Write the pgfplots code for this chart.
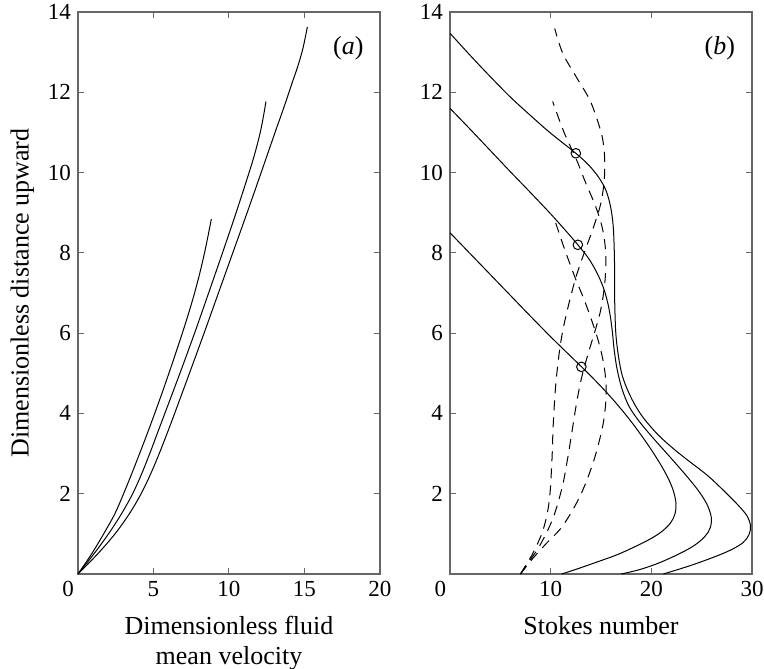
\documentclass[border=0pt]{standalone}
\usepackage{fontspec}
\setmainfont{Liberation Serif}
\usepackage{pgfplots}
\pgfplotsset{compat=1.18}

\pgfplotsset{
  panel/.style={
    scale only axis, width=151pt, height=281pt,
    ymin=0, ymax=14, ytick={2,4,...,14},
    tick align=inside, major tick length=3pt,
    axis line style={black!60, line width=0.6pt},
    every tick/.style={black!60, line width=0.5pt},
    tick label style={font=\fontsize{11.5}{13}\selectfont},
    label style={font=\fontsize{13}{15}\selectfont},
    xlabel style={yshift=-3pt},
    /pgf/number format/assume math mode=true,
  },
  curve/.style={black, line width=0.5pt, smooth, tension=0.55},
  dash1/.style={curve, dash pattern=on 5pt off 3.5pt},
}

\begin{document}
\begin{tikzpicture}
\useasboundingbox (-39pt,-47pt) rectangle (343pt,287pt);
% (a) fluid velocity
\begin{axis}[panel,
    xmin=0, xmax=20, xtick={0,5,10,15,20},
    xticklabels={\llap{0\hspace{2pt}},5,10,15,20},
    xlabel={Dimensionless fluid\\mean velocity},
    xlabel style={align=center},
    ylabel={Dimensionless distance upward},
]
\addplot[curve] coordinates {(0,0) (0.9,0.5) (1.7,1) (2.44,1.5) (3.02,2) (3.56,2.5) (4.08,3) (4.59,3.5) (5.08,4) (5.56,4.5) (6.02,5) (6.47,5.5) (6.91,6) (7.33,6.5) (7.72,7) (8.07,7.5) (8.38,8) (8.6,8.4) (8.83,8.84)};
\addplot[curve] coordinates {(0,0) (1.05,0.5) (2.02,1) (2.88,1.5) (3.62,2) (4.22,2.5) (4.75,3) (5.25,3.5) (5.75,4) (6.75,5) (7.72,6) (8.65,7) (9.57,8) (10.47,9) (11.33,10) (11.73,10.5) (12.07,11) (12.28,11.4) (12.45,11.77)};
\addplot[curve] coordinates {(0,0) (1.3,0.5) (2.45,1) (3.4,1.5) (4.18,2) (4.82,2.5) (5.38,3) (5.9,3.5) (6.4,4) (7.38,5) (8.35,6) (9.3,7) (10.25,8) (11.2,9) (12.13,10) (13.05,11) (13.65,11.64) (14.15,12.2) (14.55,12.64) (14.9,13.1) (15.19,13.63)};
\node[font=\fontsize{13}{15}\selectfont] at (axis cs:17.9,13.1) {(\textit{a})};
\end{axis}

% (b) Stokes number
\begin{axis}[panel, at={(186pt,0)},
    xmin=0, xmax=30, xtick={0,10,20,30},
    xticklabels={\llap{0\hspace{2pt}},10,20,30},
    xlabel={Stokes number},
]
% solid
\addplot[curve] coordinates {(0,8.5) (2,7.98) (4,7.46) (6,6.94) (8,6.42) (10,5.91) (12,5.42) (14,4.93) (16,4.4) (17.8,3.86) (19.3,3.35) (20.5,2.9) (21.5,2.47) (22.15,2.1) (22.45,1.76) (22.35,1.5) (21.9,1.27) (21.0,1.05) (19.8,0.86) (18.2,0.66) (16.5,0.47) (14.5,0.29) (12.8,0.14) (11.1,0)};
\addplot[curve] coordinates {(0,11.6) (2,11.08) (4,10.55) (6,10.02) (8,9.5) (10,8.97) (11.5,8.55) (12.7,8.2) (13.8,7.85) (14.7,7.45) (15.35,7.05) (15.8,6.6) (16.1,6.1) (16.3,5.6) (16.6,5.1) (17.1,4.6) (17.8,4.17) (18.8,3.8) (20.2,3.38) (21.8,2.93) (23.3,2.5) (24.6,2.1) (25.5,1.75) (25.95,1.42) (25.85,1.15) (25.3,0.93) (24.2,0.7) (22.5,0.47) (20.5,0.25) (18.7,0.1) (17.0,0)};
\addplot[curve] coordinates {(0,13.47) (2,12.92) (4,12.39) (6,11.88) (8,11.42) (10,10.98) (12.5,10.48) (13.8,10.18) (14.8,9.87) (15.5,9.55) (15.95,9.15) (16.2,8.7) (16.3,8.2) (16.35,7.6) (16.35,7.0) (16.4,6.4) (16.5,5.9) (16.75,5.4) (17.1,4.95) (17.7,4.55) (18.4,4.2) (19.3,3.86) (20.7,3.46) (22.2,3.12) (23.8,2.8) (25.6,2.45) (27.3,2.05) (28.6,1.72) (29.5,1.45) (29.85,1.2) (29.7,0.98) (29.1,0.78) (27.9,0.6) (26.3,0.43) (24.0,0.22) (21.2,0)};
% dashed
\addplot[dash1] coordinates {(7.0,0) (8.2,0.38) (9.6,0.77) (11.2,1.2) (12.9,1.93) (14.2,2.76) (15.1,3.6) (15.45,4.2) (15.5,4.7) (15.35,5.1) (15.05,5.5) (14.6,5.92) (14.0,6.37) (13.3,6.85) (12.4,7.4) (11.3,8.15) (10.4,8.82)};
\addplot[dash1] coordinates {(7,0) (7.9,0.33) (8.9,0.7) (10.2,1.37) (11.15,2.17) (11.7,2.9) (12.15,3.6) (12.6,4.3) (13.1,4.92) (13.7,5.47) (14.4,6.05) (14.9,6.5) (15.2,6.9) (15.42,7.38) (15.48,7.9) (15.33,8.35) (15.0,8.75) (14.4,9.2) (13.5,9.73) (12.6,10.3) (11.3,11.02) (10.2,11.77)};
\addplot[dash1] coordinates {(7,0) (7.6,0.25) (8.3,0.55) (9.25,1.1) (9.85,1.8) (10.12,2.8) (10.25,3.7) (10.5,4.7) (10.9,5.6) (11.4,6.3) (12.4,7.3) (13.3,7.98) (14.2,8.6) (14.95,9.2) (15.3,9.75) (15.37,10.3) (15.2,10.78) (14.8,11.18) (13.9,11.8) (12.5,12.4) (11.2,12.97) (10.4,13.59)};
% circles
\addplot[only marks, mark=o, mark size=2.4pt, mark options={line width=0.5pt}] coordinates {(12.5,10.48) (12.7,8.2) (13.05,5.16)};
\node[font=\fontsize{13}{15}\selectfont] at (axis cs:26.8,13.1) {(\textit{b})};
\end{axis}
\end{tikzpicture}
\end{document}
